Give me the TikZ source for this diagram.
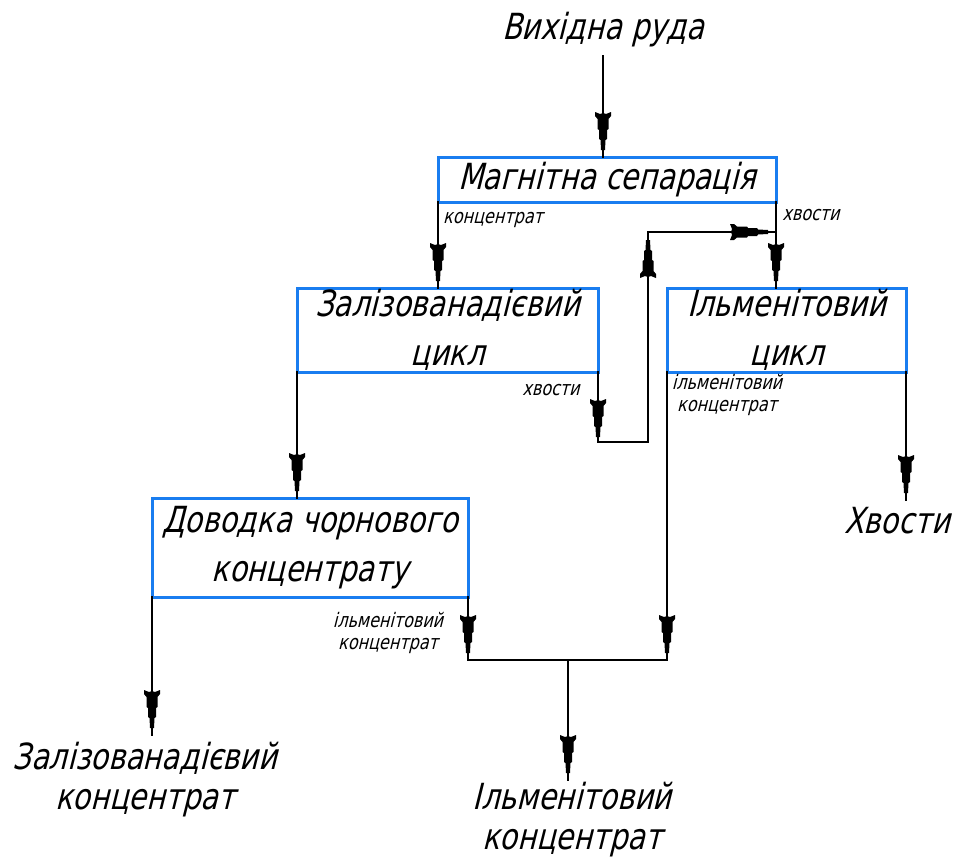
\documentclass[tikz,border=0pt]{standalone}
\usepackage{fontspec}
\setmainfont{DejaVu Sans}[FakeStretch=0.8,FakeSlant=0.25]
\usetikzlibrary{decorations.markings}
\definecolor{boxblue}{RGB}{25,125,240}
\newcommand\ahshape{\fill[black] (0,-2) -- (-10,-2.5) -- (-11,-4) -- (-20,-4) -- (-21,-5.5) -- (-31,-5.5) -- (-34,-8) -- (-38,-8) -- (-36,-3) -- (-37,0) -- (-36,3) -- (-38,8) -- (-34,8) -- (-31,5.5) -- (-21,5.5) -- (-20,4) -- (-11,4) -- (-10,2.5) -- (0,2) -- cycle;}
\tikzset{
  proc/.style={draw=boxblue, line width=1.5pt, inner sep=0pt, outer sep=0pt, align=center, font=\fontsize{18}{24.5}\selectfont},
  big/.style={inner sep=0pt, align=center, font=\fontsize{18}{20}\selectfont},
  small/.style={inner sep=0pt, align=center, font=\fontsize{10}{11}\selectfont},
  conn/.style={draw, line width=1pt, line cap=rect},
  ahat/.style={postaction={decorate, decoration={markings, mark=at position #1 with {\ahshape}}}},
  arr/.style={conn, ahat=-3.5pt}
}
\begin{document}
\begin{tikzpicture}[x=0.5pt, y=-0.5pt]
\useasboundingbox (0,0) rectangle (964,862);
% process boxes
\node[proc, minimum width=169pt, minimum height=22.5pt] (b1) at (607,179.5) {Магнітна сепарація};
\node[proc, minimum width=150.5pt, minimum height=42pt] (b2) at (447.5,330) {Залізованадієвий\\цикл};
\node[proc, minimum width=119.5pt, minimum height=42pt] (b3) at (786.5,330) {Ільменітовий\\цикл};
\node[proc, minimum width=158pt, minimum height=49.5pt] (b4) at (310,547.5) {Доводка чорнового\\концентрату};
% terminal texts
\node[big] (src) at (603,30) {Вихідна руда};
\node[big] (tail) at (897,521) {Хвости};
\node[big] (fev) at (145,780) {Залізованадієвий\\концентрат};
\node[big] (ilm) at (572,820) {Ільменітовий\\концентрат};
% small labels
\node[small] (lc1) at (493,220) {концентрат};
\node[small] (lh1) at (811,215) {хвости};
\node[small] (lh2) at (551,390) {хвости};
\node[small] (li1) at (727,395) {ільменітовий\\концентрат};
\node[small] (li2) at (388,633) {ільменітовий\\концентрат};
% coordinates
\coordinate (c1) at (598,442);
\coordinate (c2) at (648,442);
\coordinate (c3) at (648,232);
\coordinate (c4) at (776,232);
\coordinate (j1) at (468,660);
\coordinate (j2) at (667,660);
\coordinate (j3) at (568,660);
\coordinate (e1) at (152,735);
\coordinate (e2) at (568,780);
\coordinate (e3) at (906,500);
% connectors
\draw[arr, shorten <=4pt] (src.south) -- (src.south |- b1.north);
\draw[arr] (b1.south west) -- (b1.south west |- b2.north);
\draw[arr] (b1.south east) -- (b1.south east |- b3.north);
\draw[conn, ahat=32.5pt, ahat=161pt, ahat=225pt] (b2.south east) -- (c1) -- (c2) -- (c3) -- (c4);
\draw[arr] (b2.south west) -- (b2.south west |- b4.north);
\draw[arr] (b4.south west) -- (e1);
\draw[arr] (b3.south east) -- (e3);
\draw[arr] (b4.south east) -- (j1);
\draw[arr] (b3.south west) -- (j2);
\draw[conn] (j1) -- (j2);
\draw[arr] (j3) -- (e2);
\end{tikzpicture}
\end{document}
